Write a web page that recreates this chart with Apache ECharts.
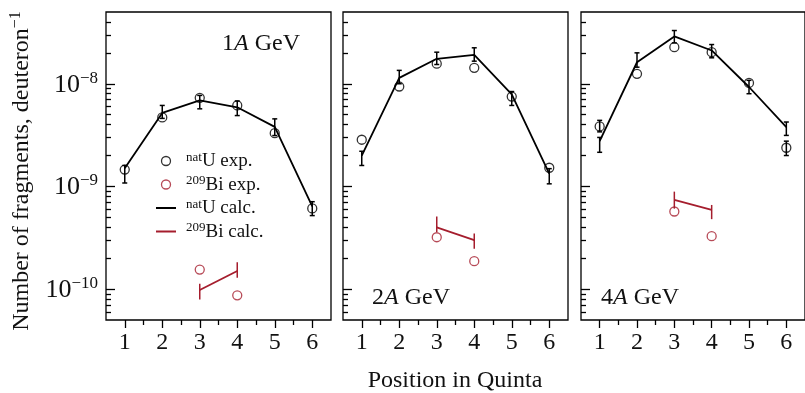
<!DOCTYPE html>
<html><head><meta charset="utf-8">
<script src="https://cdn.jsdelivr.net/npm/echarts@6/dist/echarts.min.js"></script>
<style>html,body{margin:0;padding:0;background:#fff}#c{width:805px;height:393px}</style>
</head><body><div id="c"></div>
<script>
// ---- data ----
const positions = [1, 2, 3, 4, 5, 6];
const halfPositions = [1.5, 2.5, 3.5, 4.5, 5.5];
const biPositions = [3, 4];
const energies = ['1', '2', '4'];
const yMajorTicks = [1e-10, 1e-9, 1e-8];
const yMinorTicks = [6e-11, 7e-11, 8e-11, 9e-11,
  2e-10, 3e-10, 4e-10, 5e-10, 6e-10, 7e-10, 8e-10, 9e-10,
  2e-9, 3e-9, 4e-9, 5e-9, 6e-9, 7e-9, 8e-9, 9e-9,
  2e-8, 3e-8, 4e-8];

// natU experiment
const uExp1 = [1.46e-9, 4.7e-9, 7.3e-9, 6.15e-9, 3.3e-9, 6.1e-10];
const uExp2 = [2.85e-9, 9.4e-9, 1.57e-8, 1.43e-8, 7.5e-9, 1.52e-9];
const uExp4 = [3.84e-9, 1.25e-8, 2.27e-8, 2.03e-8, 1.02e-8, 2.38e-9];
// natU experiment error bars shown (4A GeV, positions 1 and 6)
const uExpErrPos4 = [1, 6];
const uExpErrLo4 = [3.4e-9, 2.0e-9];
const uExpErrHi4 = [4.4e-9, 2.76e-9];

// natU calculation with error bars
const uCalc1 = [1.5e-9, 5.2e-9, 6.9e-9, 5.9e-9, 3.8e-9, 6.4e-10];
const uCalcLo1 = [1.08e-9, 4.6e-9, 5.7e-9, 4.9e-9, 3.13e-9, 5.2e-10];
const uCalcHi1 = [1.6e-9, 6.15e-9, 7.7e-9, 6.8e-9, 4.55e-9, 7.1e-10];
const uCalc2 = [2.0e-9, 1.14e-8, 1.75e-8, 1.91e-8, 7.9e-9, 1.33e-9];
const uCalcLo2 = [1.6e-9, 1.0e-8, 1.54e-8, 1.66e-8, 6.15e-9, 1.06e-9];
const uCalcHi2 = [2.2e-9, 1.35e-8, 2.03e-8, 2.24e-8, 8.4e-9, 1.49e-9];
const uCalc4 = [2.76e-9, 1.62e-8, 2.89e-8, 2.11e-8, 9.3e-9, 3.78e-9];
const uCalcLo4 = [2.15e-9, 1.45e-8, 2.5e-8, 1.79e-8, 8.0e-9, 3.14e-9];
const uCalcHi4 = [3.0e-9, 2.0e-8, 3.3e-8, 2.41e-8, 1.08e-8, 4.24e-9];

// 209Bi experiment
const biExp1 = [1.55e-10, 8.7e-11];
const biExp2 = [3.2e-10, 1.87e-10];
const biExp4 = [5.7e-10, 3.28e-10];
// 209Bi calculation with error bars
const biCalc1 = [9.8e-11, 1.5e-10];
const biCalcLo1 = [7.9e-11, 1.29e-10];
const biCalcHi1 = [1.13e-10, 1.83e-10];
const biCalc2 = [4.0e-10, 3.0e-10];
const biCalcLo2 = [3.6e-10, 2.47e-10];
const biCalcHi2 = [5.1e-10, 3.47e-10];
const biCalc4 = [7.4e-10, 5.9e-10];
const biCalcLo4 = [6.07e-10, 4.8e-10];
const biCalcHi4 = [8.9e-10, 6.6e-10];

const legendNames = ['natU exp.', '209Bi exp.', 'natU calc.', '209Bi calc.'];

// ---- styling ----
const FONT = '"Liberation Serif", "DejaVu Serif", serif';
const BLACK = '#111';
const RED = '#a51d2d';

const panels = [
  {uExp: uExp1, uCalc: uCalc1, uLo: uCalcLo1, uHi: uCalcHi1, biExp: biExp1, biCalc: biCalc1, biLo: biCalcLo1, biHi: biCalcHi1},
  {uExp: uExp2, uCalc: uCalc2, uLo: uCalcLo2, uHi: uCalcHi2, biExp: biExp2, biCalc: biCalc2, biLo: biCalcLo2, biHi: biCalcHi2},
  {uExp: uExp4, uCalc: uCalc4, uLo: uCalcLo4, uHi: uCalcHi4, biExp: biExp4, biCalc: biCalc4, biLo: biCalcLo4, biHi: biCalcHi4}
];
const gridLefts = [106, 343, 581];

function errRender(cap, color) {
  return function (params, api) {
    const x = api.value(0);
    const lo = api.coord([x, api.value(1)]);
    const hi = api.coord([x, api.value(2)]);
    const st = {stroke: color, lineWidth: 1.5};
    const children = [{type: 'line', shape: {x1: lo[0], y1: lo[1], x2: hi[0], y2: hi[1]}, style: st}];
    if (cap) {
      children.push({type: 'line', shape: {x1: lo[0] - cap, y1: lo[1], x2: lo[0] + cap, y2: lo[1]}, style: st});
      children.push({type: 'line', shape: {x1: hi[0] - cap, y1: hi[1], x2: hi[0] + cap, y2: hi[1]}, style: st});
    }
    return {type: 'group', children: children};
  };
}

const grids = [], xAxes = [], yAxes = [], series = [];
panels.forEach(function (p, i) {
  grids.push({left: gridLefts[i], top: 12, width: 225, height: 308, show: true,
    borderColor: '#000', borderWidth: 1.3, backgroundColor: 'transparent'});
  xAxes.push({type: 'value', gridIndex: i, min: 0.5, max: 6.5, interval: 0.5, position: 'bottom',
    axisLine: {show: false}, splitLine: {show: false},
    axisTick: {customValues: positions, length: 8, lineStyle: {color: '#000', width: 1.3}},
    axisLabel: {customValues: positions, margin: 11, fontFamily: FONT, fontSize: 24, color: BLACK}});
  xAxes.push({type: 'value', gridIndex: i, min: 0.5, max: 6.5, interval: 0.5, position: 'bottom',
    axisLine: {show: false}, splitLine: {show: false},
    axisTick: {customValues: halfPositions, length: 5, lineStyle: {color: '#000', width: 1.3}},
    axisLabel: {show: false}});
  yAxes.push({type: 'log', logBase: 10, gridIndex: i, min: 5e-11, max: 5e-8, position: 'left',
    axisLine: {show: false}, splitLine: {show: false}, minorTick: {show: false},
    axisTick: {inside: true, customValues: yMajorTicks, length: 9, lineStyle: {color: '#000', width: 1.3}},
    axisLabel: {show: i === 0, customValues: yMajorTicks, margin: 8,
      formatter: function (v) { return '{b|10}{s|\u2212' + Math.round(-Math.log10(v)) + '}'; },
      rich: {b: {fontFamily: FONT, fontSize: 26, color: BLACK, lineHeight: 28, verticalAlign: 'bottom'},
             s: {fontFamily: FONT, fontSize: 17, color: BLACK, lineHeight: 17, verticalAlign: 'top'}}}});
  yAxes.push({type: 'log', logBase: 10, gridIndex: i, min: 5e-11, max: 5e-8, position: 'left',
    axisLine: {show: false}, splitLine: {show: false}, minorTick: {show: false},
    axisTick: {inside: true, customValues: yMinorTicks, length: 5, lineStyle: {color: '#000', width: 1.3}},
    axisLabel: {show: false}});

  const xa = i * 2, ya = i * 2;
  series.push({name: 'natU calc.', type: 'line', xAxisIndex: xa, yAxisIndex: ya, symbol: 'none',
    lineStyle: {color: '#000', width: 1.8}, itemStyle: {color: '#000'}, z: 3,
    data: positions.map(function (x, k) { return [x, p.uCalc[k]]; })});
  series.push({type: 'custom', xAxisIndex: xa, yAxisIndex: ya, renderItem: errRender(2.5, '#000'), z: 3,
    encode: {x: 0, y: [1, 2]},
    data: positions.map(function (x, k) { return [x, p.uLo[k], p.uHi[k]]; })});
  series.push({name: 'natU exp.', type: 'scatter', xAxisIndex: xa, yAxisIndex: ya, symbol: 'circle', symbolSize: 9,
    itemStyle: {color: 'transparent', borderColor: '#000', borderWidth: 1.3}, z: 4,
    data: positions.map(function (x, k) { return [x, p.uExp[k]]; })});
  series.push({name: '209Bi calc.', type: 'line', xAxisIndex: xa, yAxisIndex: ya, symbol: 'none',
    lineStyle: {color: RED, width: 1.8}, itemStyle: {color: RED}, z: 3,
    data: biPositions.map(function (x, k) { return [x, p.biCalc[k]]; })});
  series.push({type: 'custom', xAxisIndex: xa, yAxisIndex: ya, renderItem: errRender(0, RED), z: 3,
    encode: {x: 0, y: [1, 2]},
    data: biPositions.map(function (x, k) { return [x, p.biLo[k], p.biHi[k]]; })});
  series.push({name: '209Bi exp.', type: 'scatter', xAxisIndex: xa, yAxisIndex: ya, symbol: 'circle', symbolSize: 9,
    itemStyle: {color: 'transparent', borderColor: RED, borderWidth: 1.3}, z: 4,
    data: biPositions.map(function (x, k) { return [x, p.biExp[k]]; })});
  if (i === 2) {
    series.push({type: 'custom', xAxisIndex: xa, yAxisIndex: ya, renderItem: errRender(2.5, '#000'), z: 3,
      encode: {x: 0, y: [1, 2]},
      data: uExpErrPos4.map(function (x, k) { return [x, uExpErrLo4[k], uExpErrHi4[k]]; })});
  }
});

function legendFmt(name) {
  if (name.indexOf('nat') === 0) return '{p|nat}{m|' + name.slice(3) + '}';
  return '{p|209}{m|' + name.slice(3) + '}';
}

const titleRich = {
  n: {fontFamily: FONT, fontSize: 24, fontWeight: 'normal', color: BLACK},
  i: {fontFamily: FONT, fontSize: 24, fontWeight: 'normal', fontStyle: 'italic', color: BLACK}
};
const titlePos = [[222, 32], [372, 286], [601, 286]];
const hiddenSymbol = {color: 'transparent', borderColor: 'transparent', borderWidth: 0, opacity: 0};

const option = {
  animation: false,
  backgroundColor: '#fff',
  grid: grids,
  xAxis: xAxes,
  yAxis: yAxes,
  series: series,
  title: energies.map(function (e, i) {
    return {text: '{n|' + e + '}{i|A}{n| GeV}', left: titlePos[i][0], top: titlePos[i][1], padding: 0,
      textStyle: {fontWeight: 'normal', rich: titleRich}};
  }),
  legend: {
    orient: 'vertical', left: 150, top: 146, itemWidth: 20, itemHeight: 9, itemGap: 3.5,
    data: [
      {name: legendNames[0], icon: 'circle', itemStyle: {color: 'transparent', borderColor: '#000', borderWidth: 1.3}},
      {name: legendNames[1], icon: 'circle', itemStyle: {color: 'transparent', borderColor: RED, borderWidth: 1.3}},
      {name: legendNames[2], itemStyle: hiddenSymbol, lineStyle: {color: '#000', width: 2}},
      {name: legendNames[3], itemStyle: hiddenSymbol, lineStyle: {color: RED, width: 2}}
    ],
    formatter: legendFmt,
    textStyle: {rich: {
      p: {fontFamily: FONT, fontSize: 13, color: BLACK, lineHeight: 13, verticalAlign: 'top', padding: [0, 0, 0, 5]},
      m: {fontFamily: FONT, fontSize: 19, color: BLACK, lineHeight: 20, verticalAlign: 'bottom'}
    }}
  },
  graphic: [
    {type: 'text', x: 21, y: 171, rotation: Math.PI / 2,
      style: {text: '{m|Number of fragments, deuteron}{p|\u22121}', align: 'center', verticalAlign: 'middle',
        rich: {m: {fontFamily: FONT, fontSize: 24, fill: BLACK, lineHeight: 26, verticalAlign: 'bottom'},
               p: {fontFamily: FONT, fontSize: 16, fill: BLACK, lineHeight: 16, verticalAlign: 'top'}}}},
    {type: 'text', x: 455, y: 381,
      style: {text: 'Position in Quinta', align: 'center', verticalAlign: 'middle',
        fontFamily: FONT, fontSize: 24, fill: BLACK}}
  ]
};

const chart = echarts.init(document.getElementById('c'), null, {renderer: 'canvas'});
chart.setOption(option);
</script>
</body></html>
